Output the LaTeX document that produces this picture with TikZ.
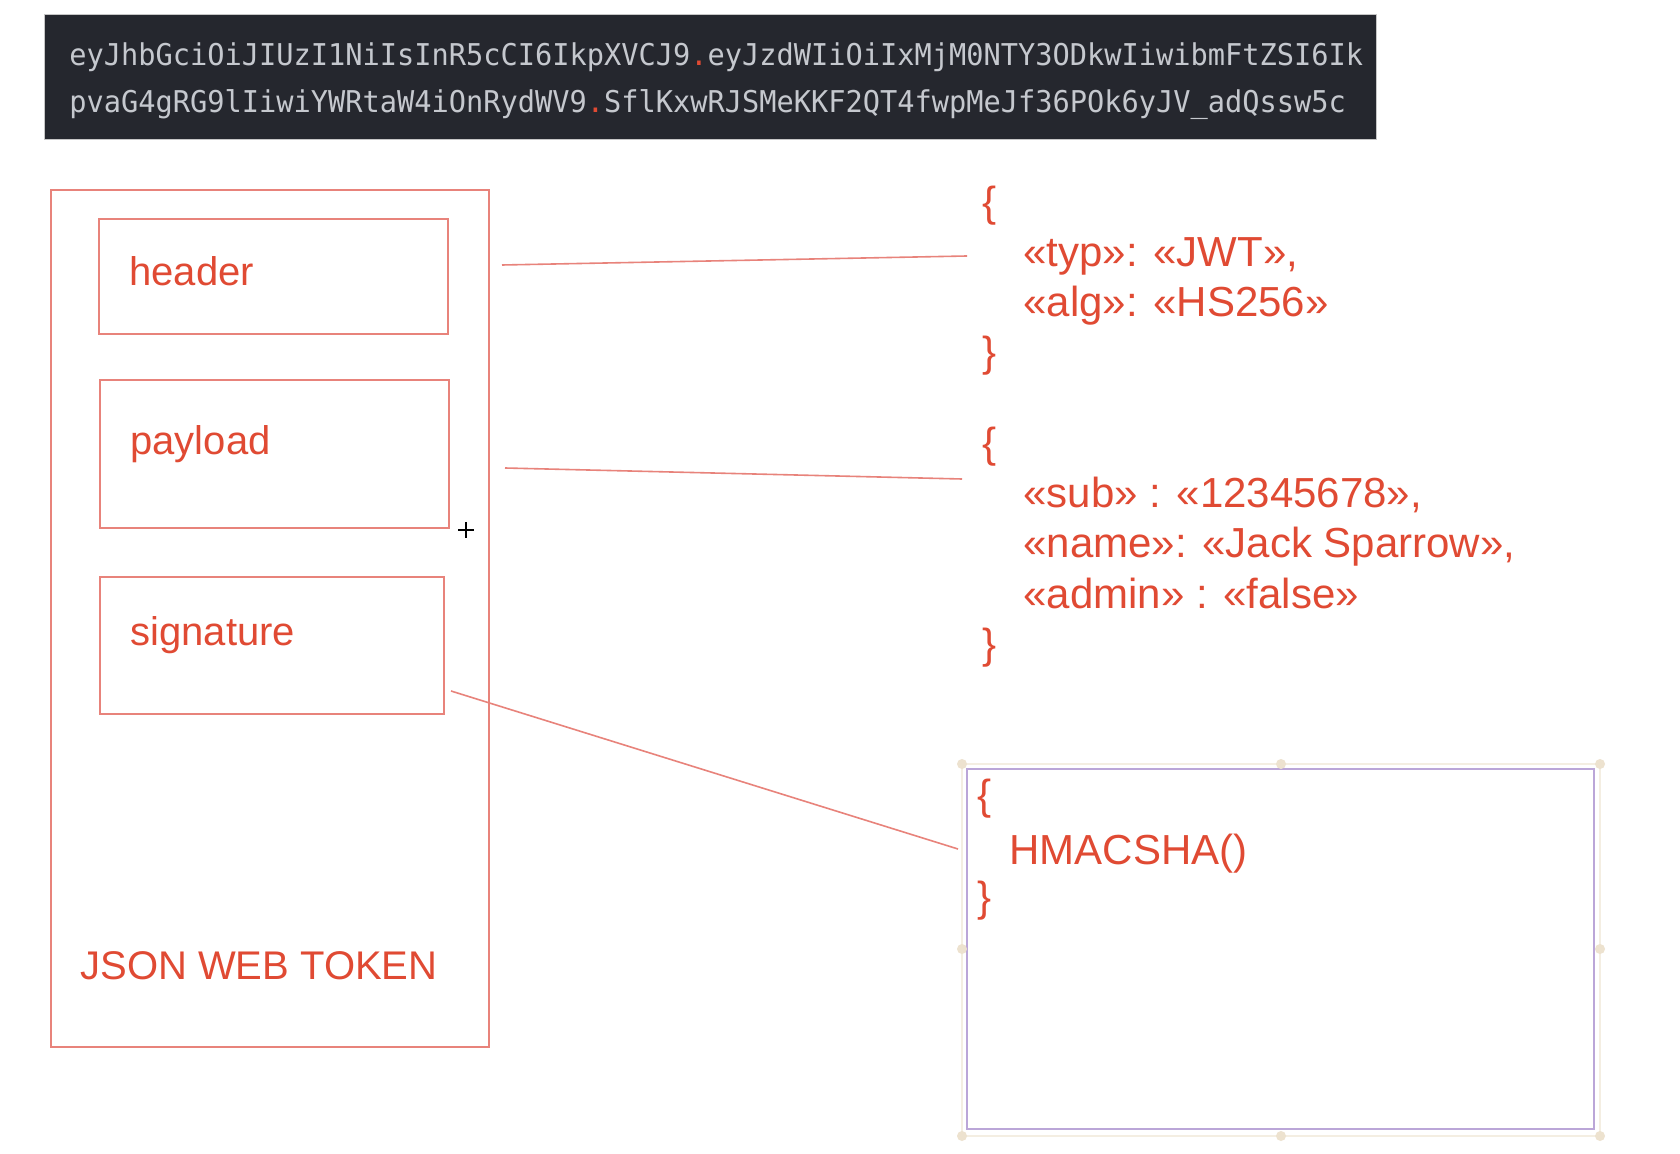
\documentclass[tikz,border=0pt]{standalone}
\usepackage{fontspec}
\setmainfont{Liberation Sans}
\newfontfamily\codefont[FakeStretch=0.955]{DejaVu Sans Mono}
\definecolor{jwtred}{HTML}{E04A33}
\definecolor{boxred}{HTML}{E8837B}
\definecolor{tokenbg}{HTML}{25272E}
\definecolor{tokenfg}{HTML}{C5C8CE}
\definecolor{hmacborder}{HTML}{BBA6D8}
\definecolor{handle}{HTML}{EDE2CF}
\tikzset{
    part/.style={draw=boxred, line width=1pt},
    partlabel/.style={anchor=base west, inner sep=0pt, text=jwtred, font=\fontsize{20pt}{24pt}\selectfont},
    jsonline/.style={anchor=base west, inner sep=0pt, text=jwtred, font=\fontsize{21pt}{25pt}\selectfont},
    tokenline/.style={anchor=base west, inner sep=0pt, text=tokenfg, font=\codefont\fontsize{15pt}{18pt}\selectfont},
    link/.style={draw=boxred, line width=0.8pt},
    handledot/.style={circle, fill=handle, inner sep=0pt, minimum size=5pt},
}
\newcommand\RedDot{{\color{jwtred}.}}

\begin{document}
\begin{tikzpicture}[x=0.5pt,y=-0.5pt]
    \useasboundingbox[fill=white] (0,0) rectangle (1680,1154);
    % encoded token
    \draw[fill=tokenbg, draw=gray!45, line width=0.5pt] (44,15) rectangle (1376,140);
    \node[tokenline] (token-a) at (69,66) {eyJhbGciOiJIUzI1NiIsInR5cCI6IkpXVCJ9\RedDot eyJzdWIiOiIxMjM0NTY3ODkwIiwibmFtZSI6Ik};
    \node[tokenline] (token-b) at (69,113) {pvaG4gRG9lIiwiYWRtaW4iOnRydWV9\RedDot SflKxwRJSMeKKF2QT4fwpMeJf36POk6yJV\_adQssw5c};
    % token parts
    \draw[part] (51,190) rectangle (489,1047);
    \draw[part] (99,219) rectangle (448,334);
    \draw[part] (100,380) rectangle (449,528);
    \draw[part] (100,577) rectangle (444,714);
    \node[partlabel] (header) at (129,286) {header};
    \node[partlabel] (payload) at (130,455) {payload};
    \node[partlabel] (signature) at (130,645) {signature};
    \node[partlabel] (jwt) at (80,979) {JSON WEB TOKEN};
    \draw[line width=0.6pt] (458,530) -- (474,530) (466,522) -- (466,538);
    % header json
    \node[jsonline] (h-open) at (982,217) {\{};
    \node[jsonline] (h-typ) at (1023,267) {«typ»: «JWT»,};
    \node[jsonline] (h-alg) at (1023,317) {«alg»: «HS256»};
    \node[jsonline] (h-close) at (982,367) {\}};
    % payload json
    \node[jsonline] (p-open) at (982,458) {\{};
    \node[jsonline] (p-sub) at (1023,508) {«sub» : «12345678»,};
    \node[jsonline] (p-name) at (1023,558) {«name»: «Jack Sparrow»,};
    \node[jsonline] (p-admin) at (1023,608) {«admin» : «false»};
    \node[jsonline] (p-close) at (982,658) {\}};
    % signature
    \draw[handle!60, line width=0.6pt] (962,764) rectangle (1600,1136);
    \draw[hmacborder, line width=1pt] (967,769) rectangle (1594,1129);
    \foreach \hx/\hy in {962/764, 1281/764, 1600/764, 962/949, 1600/949, 962/1136, 1281/1136, 1600/1136}
        \node[handledot] at (\hx,\hy) {};
    \node[jsonline] (s-open) at (977,809) {\{};
    \node[jsonline] (s-hmac) at (1009,864) {HMACSHA()};
    \node[jsonline] (s-close) at (977,911) {\}};
    % connectors
    \coordinate (header-out) at (502,265);
    \coordinate (header-in) at (967,256);
    \coordinate (payload-out) at (505,468);
    \coordinate (payload-in) at (962,479);
    \coordinate (signature-out) at (451,691);
    \coordinate (signature-in) at (958,849);
    \draw[link] (header-out) -- (header-in);
    \draw[link] (payload-out) -- (payload-in);
    \draw[link] (signature-out) -- (signature-in);
\end{tikzpicture}
\end{document}
